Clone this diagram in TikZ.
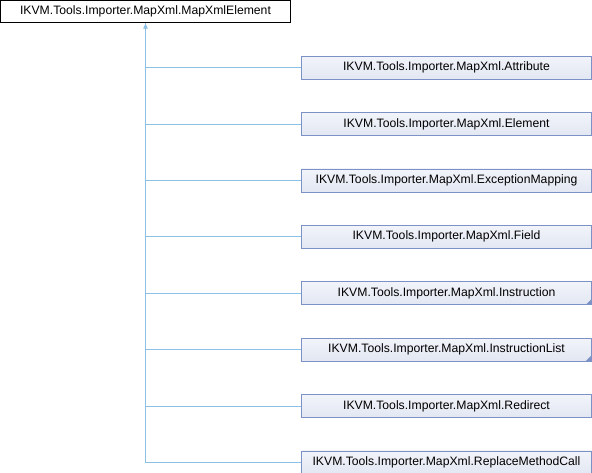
\documentclass[tikz,border=0pt]{standalone}
\usepackage{fontspec}
\setmainfont{Liberation Sans}
\usetikzlibrary{arrows.meta,positioning}
\definecolor{boxline}{RGB}{124,146,199}
\definecolor{boxtop}{RGB}{242,244,250}
\definecolor{boxbot}{RGB}{226,231,242}
\definecolor{edgeblue}{RGB}{141,192,230}
\tikzset{>={Latex[length=6pt,width=5pt]},node distance=33pt}
\tikzset{base/.style={rectangle,minimum width=290pt,minimum height=23pt,inner sep=0pt,
        font=\fontsize{12.2}{14}\selectfont}}
\tikzset{root/.style={base,draw=black,fill=white,minimum height=22pt}}
\tikzset{cls/.style={base,draw=boxline,top color=boxtop,bottom color=boxbot}}
\tikzset{edge/.style={draw=edgeblue,line width=0.8pt}}

\begin{document}
\begin{tikzpicture}[x=1pt,y=-1pt]
                \useasboundingbox (0,0) rectangle (592,472);
                \node[root] (mxe) at (145.5,11.5) {IKVM.Tools.Importer.MapXml.MapXmlElement};
                \node[cls] (attr) at (446.5,67.5) {IKVM.Tools.Importer.MapXml.Attribute};
                \node[cls] (elem) [below=of attr] {IKVM.Tools.Importer.MapXml.Element};
                \node[cls] (exmap) [below=of elem] {IKVM.Tools.Importer.MapXml.ExceptionMapping};
                \node[cls] (field) [below=of exmap] {IKVM.Tools.Importer.MapXml.Field};
                \node[cls] (instr) [below=of field] {IKVM.Tools.Importer.MapXml.Instruction};
                \node[cls] (ilist) [below=of instr] {IKVM.Tools.Importer.MapXml.InstructionList};
                \node[cls] (redir) [below=of ilist] {IKVM.Tools.Importer.MapXml.Redirect};
                \node[cls] (rmc) [below=of redir] {IKVM.Tools.Importer.MapXml.ReplaceMethodCall};
                % small corner marks: classes with more derived classes
                \fill[boxline] (instr.south east) -- ++(-6,0) -- ++(6,-6) -- cycle;
                \fill[boxline] (ilist.south east) -- ++(-6,0) -- ++(6,-6) -- cycle;
                \path[edge]
                    (rmc.west) -| (mxe.south)
                    (attr.west) -- (attr.west -| mxe.south)
                    (elem.west) -- (elem.west -| mxe.south)
                    (exmap.west) -- (exmap.west -| mxe.south)
                    (field.west) -- (field.west -| mxe.south)
                    (instr.west) -- (instr.west -| mxe.south)
                    (ilist.west) -- (ilist.west -| mxe.south)
                    (redir.west) -- (redir.west -| mxe.south);
                \draw[edge,->] (attr.west -| mxe.south) -- (mxe.south);
\end{tikzpicture}
\end{document}
